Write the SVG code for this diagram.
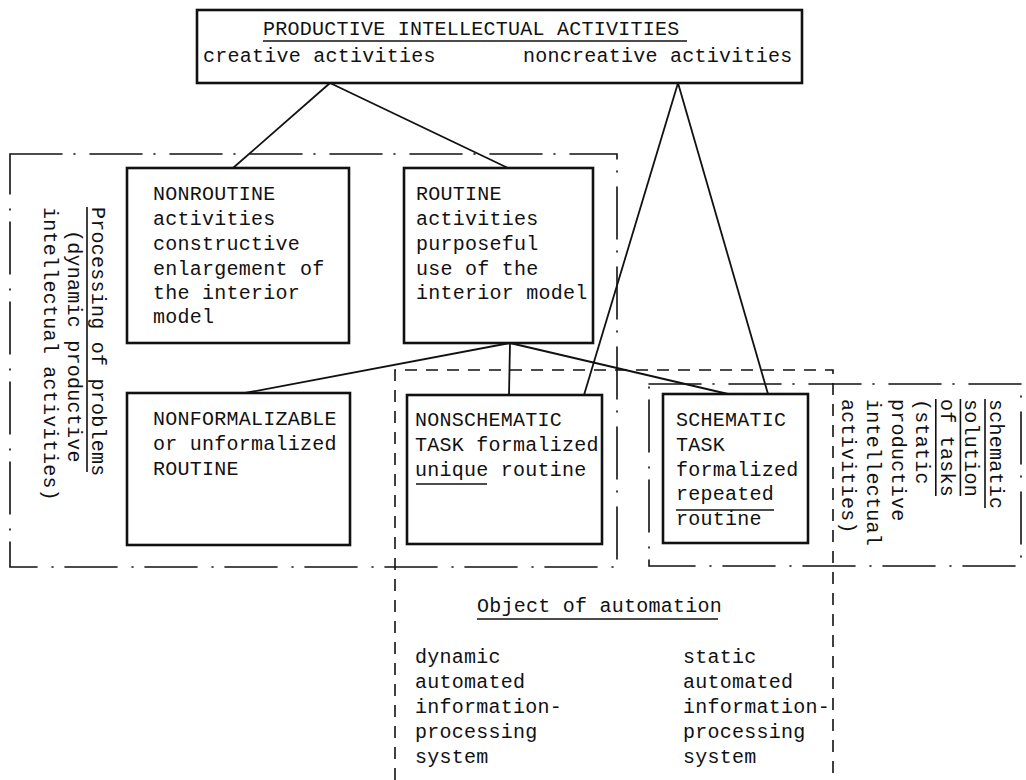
<svg xmlns="http://www.w3.org/2000/svg" width="1026" height="780" viewBox="0 0 1026 780">
  <style>
    text { font-family: "Liberation Mono", "Courier New", monospace; font-size: 20px; fill: #111; letter-spacing: 0.25px; }
    .box { fill: none; stroke: #111; stroke-width: 2.6; }
    .conn { fill: none; stroke: #111; stroke-width: 1.8; }
    .ul { stroke: #111; stroke-width: 1.6; }
    .dashdot { fill: none; stroke: #111; stroke-width: 1.6; stroke-dasharray: 52 12 1 15; stroke-linecap: round; }
    .dashed { fill: none; stroke: #111; stroke-width: 1.6; stroke-dasharray: 12 9; }
  </style>
  <rect width="1026" height="780" fill="#ffffff"/>

  <!-- grouping frames -->
  <g id="frames">
    <rect class="dashdot" x="10" y="154" width="607" height="413"/>
    <rect class="dashdot" x="649" y="384" width="372" height="182"/>
    <path class="dashed" d="M395,780 L395,370 L833,370 L833,780"/>
  </g>

  <!-- connectors -->
  <g id="connectors">
    <line class="conn" x1="330" y1="83" x2="233" y2="168"/>
    <line class="conn" x1="330" y1="83" x2="508" y2="168"/>
    <line class="conn" x1="678" y1="83" x2="584" y2="395"/>
    <line class="conn" x1="678" y1="83" x2="768" y2="394"/>
    <line class="conn" x1="510" y1="343" x2="245" y2="393"/>
    <line class="conn" x1="510" y1="343" x2="509" y2="395"/>
    <line class="conn" x1="510" y1="343" x2="728" y2="394"/>
  </g>

  <g id="productive-activities">
    <rect class="box" x="197" y="10" width="605" height="73"/>
    <text x="263" y="35">PRODUCTIVE INTELLECTUAL ACTIVITIES</text>
    <line class="ul" x1="263" y1="41" x2="687" y2="41"/>
    <text x="203" y="62">creative activities</text>
    <text x="523" y="62">noncreative activities</text>
  </g>

  <g id="nonroutine">
    <rect class="box" x="127" y="168" width="222" height="175"/>
    <text x="153" y="200">NONROUTINE</text>
    <text x="153" y="225">activities</text>
    <text x="153" y="250">constructive</text>
    <text x="153" y="275">enlargement of</text>
    <text x="153" y="299">the interior</text>
    <text x="153" y="323">model</text>
  </g>

  <g id="routine">
    <rect class="box" x="404" y="168" width="189" height="175"/>
    <text x="416" y="200">ROUTINE</text>
    <text x="416" y="225">activities</text>
    <text x="416" y="250">purposeful</text>
    <text x="416" y="275">use of the</text>
    <text x="416" y="299">interior model</text>
  </g>

  <g id="nonformalizable">
    <rect class="box" x="127" y="393" width="223" height="152"/>
    <text x="153" y="425">NONFORMALIZABLE</text>
    <text x="153" y="450">or unformalized</text>
    <text x="153" y="475">ROUTINE</text>
  </g>

  <g id="nonschematic">
    <rect class="box" x="407" y="395" width="195" height="149"/>
    <text x="415" y="426">NONSCHEMATIC</text>
    <text x="415" y="451">TASK formalized</text>
    <text x="415" y="476">unique routine</text>
    <line class="ul" x1="416" y1="484" x2="487" y2="484"/>
  </g>

  <g id="schematic">
    <rect class="box" x="663" y="394" width="145" height="149"/>
    <text x="676" y="426">SCHEMATIC</text>
    <text x="676" y="451">TASK</text>
    <text x="676" y="476">formalized</text>
    <text x="676" y="500">repeated</text>
    <line class="ul" x1="676" y1="510" x2="774" y2="510"/>
    <text x="676" y="525">routine</text>
  </g>

  <!-- vertical label of the left frame -->
  <g id="processing-label" transform="translate(92,207) rotate(90)">
    <text x="0" y="0">Processing of problems</text>
    <line class="ul" x1="0" y1="5" x2="265" y2="5"/>
    <text x="23" y="24">(dynamic productive</text>
    <text x="0" y="48">intellectual activities)</text>
  </g>

  <!-- vertical label of the right frame -->
  <g id="schematic-label" transform="translate(990,399) rotate(90)">
    <text x="0" y="0">schematic</text>
    <line class="ul" x1="0" y1="5" x2="109" y2="5"/>
    <text x="0" y="24.6">solution</text>
    <line class="ul" x1="0" y1="29.6" x2="97" y2="29.6"/>
    <text x="0" y="49.2">of tasks</text>
    <line class="ul" x1="0" y1="54.2" x2="97" y2="54.2"/>
    <text x="0" y="73.8">(static</text>
    <text x="0" y="98.4">productive</text>
    <text x="0" y="123">intellectual</text>
    <text x="0" y="147.6">activities)</text>
  </g>

  <g id="object-of-automation">
    <text x="477" y="612">Object of automation</text>
    <line class="ul" x1="477" y1="619" x2="718" y2="619"/>
    <text x="415" y="663">dynamic</text>
    <text x="415" y="688">automated</text>
    <text x="415" y="713">information-</text>
    <text x="415" y="738">processing</text>
    <text x="415" y="763">system</text>
    <text x="683" y="663">static</text>
    <text x="683" y="688">automated</text>
    <text x="683" y="713">information-</text>
    <text x="683" y="738">processing</text>
    <text x="683" y="763">system</text>
  </g>
</svg>
